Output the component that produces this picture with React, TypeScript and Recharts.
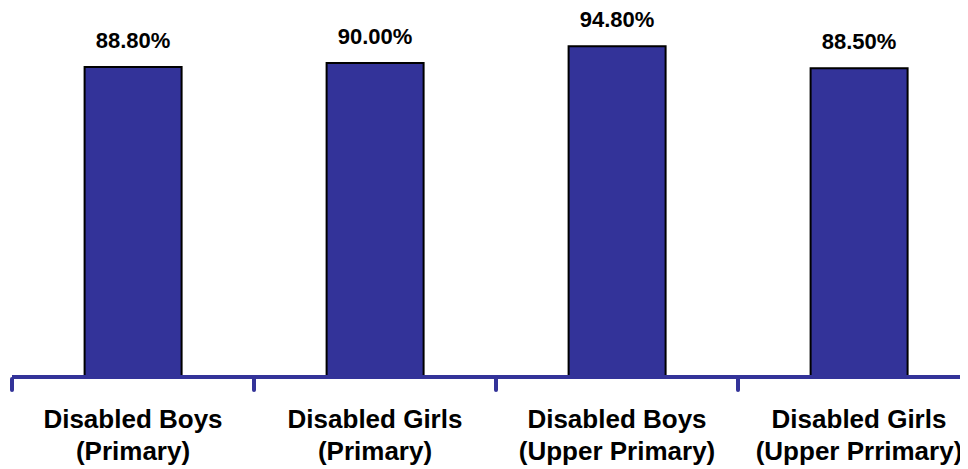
import React from "react";
import { BarChart, Bar, XAxis, YAxis, LabelList } from "recharts";

const categories = [
  "Disabled Boys\n(Primary)",
  "Disabled Girls\n(Primary)",
  "Disabled Boys\n(Upper Primary)",
  "Disabled Girls\n(Upper Prrimary)",
];
const values = [88.8, 90.0, 94.8, 88.5];

const data = categories.map((c, i) => ({ name: c, value: values[i] }));

const W = 972;
const H = 461;
const MARGIN = { top: 20, right: 0, bottom: 0, left: 4 };
const BAND = (W - MARGIN.left - MARGIN.right) / categories.length;
const AXIS_COLOR = "#333399";
const FONT = "'Liberation Sans', Arial, sans-serif";

const CatTick = (props: any) => {
  const { x, y, payload } = props;
  const lines = String(payload.value).split("\n");
  return (
    <g>
      <line x1={x - BAND / 2} x2={x - BAND / 2} y1={y} y2={y + 11} stroke={AXIS_COLOR} strokeWidth={4} strokeLinecap="round" />
      {lines.map((l, i) => (
        <text key={i} x={x} y={y + 49 + i * 32} textAnchor="middle" fontFamily={FONT} fontWeight="bold" fontSize={26} fill="#000">
          {l}
        </text>
      ))}
    </g>
  );
};

const fmt = (v: number) => v.toFixed(2) + "%";

export default function App() {
  return (
    <div style={{ width: 960, height: H, overflow: "hidden" }}>
      <BarChart width={W} height={H} data={data} margin={MARGIN} barCategoryGap="30%">
        <YAxis hide domain={[0, 100]} />
        <Bar dataKey="value" fill="#333399" stroke="#000" strokeWidth={2} isAnimationActive={false}>
          <LabelList dataKey="value" position="top" offset={19} formatter={fmt as any} style={{ fontFamily: FONT, fontWeight: "bold", fontSize: 22, fill: "#000" }} />
        </Bar>
        <XAxis
          dataKey="name"
          height={92}
          interval={0}
          tickSize={0}
          tickLine={false}
          axisLine={{ stroke: AXIS_COLOR, strokeWidth: 4 }}
          tick={<CatTick />}
        />
      </BarChart>
    </div>
  );
}
